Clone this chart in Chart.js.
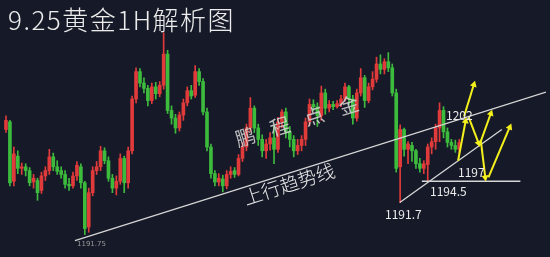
<!DOCTYPE html>
<html>
<head>
<meta charset="utf-8">
<script src="https://cdn.jsdelivr.net/npm/chart.js@4.4.1/dist/chart.umd.min.js"></script>
<style>
  html, body { margin: 0; padding: 0; background: #161a28; }
  #wrap { position: relative; width: 550px; height: 257px; }
</style>
</head>
<body>
<div id="wrap"><canvas id="chart-gold"></canvas></div>
<script>
const bgColor = '#161a28'
const upColor = '#e03a3a'
const downColor = '#3dbb3d'
const lineColor = '#d6d6d6'
const arrowColor = '#f4f01c'
const textColor = '#ececec'

// gold 1H candles, oldest first
const opens = [
  1201.3, 1202.3, 1194.5, 1197.8, 1196.2, 1196.4, 1195.9, 1194.4, 1194.6, 1193.3,
  1195.2, 1195.9, 1197.7, 1196.4, 1195.9, 1195.4, 1194.1, 1193.9, 1195.2, 1196.4,
  1194.3, 1188.5, 1193.0, 1195.9, 1196.4, 1198.5, 1197.2, 1194.9, 1193.6, 1194.5,
  1197.5, 1194.3, 1198.5, 1205.3, 1208.9, 1207.4, 1206.7, 1205.1, 1206.9, 1206.0,
  1207.1, 1211.2, 1203.8, 1202.8, 1201.5, 1203.2, 1204.8, 1206.4, 1205.8, 1208.9,
  1207.6, 1203.6, 1199.0, 1195.5, 1194.4, 1194.8, 1193.9, 1195.4, 1195.9, 1195.4,
  1197.5, 1199.0, 1201.5, 1204.1, 1201.5, 1200.0, 1198.5, 1199.4, 1200.2, 1198.7,
  1202.3, 1203.6, 1201.0, 1200.0, 1198.5, 1199.2, 1200.0, 1202.3, 1204.6, 1204.3,
  1203.1, 1206.1, 1204.1, 1204.6, 1204.3, 1204.7, 1205.3, 1206.9, 1205.3, 1202.8,
  1206.1, 1208.1, 1205.1, 1206.9, 1207.9, 1209.9, 1209.2, 1210.2, 1209.4, 1206.1,
  1196.4, 1201.3, 1198.7, 1199.2, 1198.5, 1196.8, 1196.2, 1196.7, 1199.0, 1199.7,
  1201.5, 1203.8, 1201.0, 1199.6, 1199.2, 1198.7
]
const highs = [
  1203.1, 1202.5, 1199.0, 1198.5, 1196.9, 1196.8, 1196.3, 1195.4, 1194.9, 1195.7,
  1196.4, 1198.7, 1198.2, 1197.2, 1196.4, 1195.9, 1194.9, 1195.7, 1197.1, 1196.8,
  1194.5, 1193.6, 1196.4, 1197.1, 1199.1, 1198.9, 1197.7, 1195.4, 1195.2, 1198.1,
  1197.8, 1199.0, 1205.7, 1209.4, 1209.3, 1208.1, 1207.1, 1207.4, 1207.5, 1207.6,
  1214.0, 1211.7, 1204.4, 1203.3, 1203.6, 1205.3, 1206.9, 1207.1, 1209.7, 1209.3,
  1208.0, 1204.1, 1199.4, 1195.9, 1195.5, 1195.3, 1195.9, 1196.4, 1196.3, 1198.0,
  1199.6, 1202.0, 1205.5, 1204.4, 1202.0, 1200.6, 1200.0, 1200.9, 1201.8, 1202.9,
  1203.9, 1204.1, 1201.7, 1200.5, 1200.0, 1200.5, 1202.8, 1205.3, 1205.2, 1204.8,
  1207.0, 1206.6, 1205.1, 1205.0, 1205.1, 1205.8, 1207.4, 1207.1, 1205.8, 1206.6,
  1209.3, 1208.4, 1207.4, 1208.9, 1210.8, 1211.1, 1210.6, 1211.4, 1209.9, 1206.6,
  1201.9, 1201.5, 1199.7, 1199.6, 1198.7, 1197.5, 1197.2, 1199.4, 1200.2, 1202.0,
  1204.8, 1204.3, 1201.5, 1200.0, 1199.9, 1200.0
]
const lows = [
  1200.9, 1193.9, 1193.9, 1195.5, 1195.4, 1195.2, 1193.9, 1193.6, 1192.0, 1192.9,
  1194.6, 1195.4, 1195.9, 1195.4, 1194.9, 1193.6, 1193.3, 1193.6, 1194.6, 1193.6,
  1187.5, 1187.8, 1192.6, 1195.4, 1195.9, 1196.8, 1194.5, 1193.0, 1192.7, 1194.1,
  1193.0, 1193.6, 1198.1, 1204.8, 1206.9, 1206.1, 1204.4, 1204.7, 1205.3, 1205.6,
  1206.6, 1203.4, 1202.0, 1200.8, 1201.1, 1202.5, 1204.4, 1205.3, 1205.5, 1207.1,
  1203.2, 1198.5, 1194.9, 1193.9, 1193.9, 1193.1, 1193.5, 1194.9, 1195.0, 1195.2,
  1197.1, 1198.5, 1201.0, 1200.9, 1199.2, 1197.7, 1197.5, 1198.6, 1196.8, 1198.3,
  1201.5, 1200.2, 1199.0, 1197.7, 1198.0, 1198.5, 1199.2, 1201.8, 1203.8, 1201.7,
  1202.5, 1203.3, 1203.6, 1203.9, 1204.1, 1204.3, 1205.0, 1204.6, 1202.0, 1202.4,
  1205.7, 1204.2, 1204.8, 1206.5, 1207.5, 1208.6, 1208.6, 1208.9, 1205.7, 1195.7,
  1191.7, 1197.8, 1196.8, 1197.1, 1196.2, 1195.7, 1195.5, 1194.5, 1198.1, 1198.7,
  1199.7, 1200.2, 1199.0, 1198.7, 1198.3, 1198.2
]
const closes = [
  1202.5, 1194.3, 1198.1, 1196.2, 1196.4, 1195.9, 1194.3, 1194.9, 1193.0, 1195.2,
  1195.9, 1197.7, 1196.4, 1195.8, 1195.4, 1194.1, 1193.9, 1195.2, 1196.6, 1194.3,
  1188.3, 1193.0, 1195.9, 1196.4, 1198.5, 1197.2, 1194.9, 1193.6, 1194.5, 1197.5,
  1194.3, 1198.5, 1205.3, 1208.9, 1207.4, 1206.7, 1205.1, 1206.9, 1206.0, 1207.1,
  1211.2, 1203.8, 1202.8, 1201.5, 1203.2, 1204.8, 1206.4, 1205.7, 1208.9, 1207.6,
  1203.6, 1199.0, 1195.5, 1194.4, 1194.9, 1193.9, 1195.4, 1195.8, 1195.4, 1197.5,
  1199.0, 1201.5, 1204.1, 1201.5, 1200.0, 1198.5, 1199.4, 1200.2, 1198.7, 1202.3,
  1203.6, 1201.0, 1200.0, 1198.5, 1199.2, 1200.0, 1202.3, 1204.6, 1204.3, 1203.1,
  1206.1, 1204.1, 1204.6, 1204.3, 1204.7, 1205.3, 1206.9, 1205.3, 1202.8, 1206.1,
  1208.1, 1205.1, 1206.9, 1207.9, 1209.9, 1209.2, 1210.2, 1209.4, 1206.1, 1196.2,
  1201.3, 1198.7, 1199.4, 1198.5, 1196.8, 1196.2, 1196.8, 1199.0, 1199.7, 1201.5,
  1203.8, 1201.0, 1199.6, 1199.2, 1198.7, 1199.6
]

// drawn lines, x = candle number, y = price
const trendX = [17.5, 137]
const trendY = [1186.7, 1206.2]
const supportX = [99.9, 125.8]
const supportY = [1191.7, 1201.3]
const floorX = [105.5, 130.5]
const floorY = [1194.5, 1194.5]

// forecast arrows (start -> end)
const arrowX0 = [114.7, 116.2, 117.4, 120.3, 120.5, 122.4]
const arrowY0 = [1197.2, 1203.0, 1202.9, 1199.5, 1199.7, 1195.0]
const arrowX1 = [116.6, 118.7, 119.9, 123.0, 121.6, 127.8]
const arrowY1 = [1202.4, 1207.2, 1199.5, 1203.4, 1195.0, 1201.6]


function arrowRotation(ctx) {
    var pts = ctx.dataset.data
    var xs = ctx.chart.scales.x
    var ys = ctx.chart.scales.y
    var dx = xs.getPixelForValue(pts[1].x) - xs.getPixelForValue(pts[0].x)
    var dy = ys.getPixelForValue(pts[1].y) - ys.getPixelForValue(pts[0].y)
    return Math.atan2(dx, -dy) * 180 / Math.PI
}

function lineDataset(xs, ys) {
    return {
        type: 'line',
        data: [{x: xs[0], y: ys[0]}, {x: xs[1], y: ys[1]}],
        borderColor: lineColor,
        borderWidth: 1.3,
        pointRadius: 0,
        order: 1,
    }
}

var wickData = []
var bodyData = []
var candleColors = []
var i
for (i = 0; i < closes.length; i++) {
    wickData[i] = {x: i, y: [lows[i], highs[i]]}
    bodyData[i] = {x: i, y: [opens[i], closes[i]]}
    candleColors[i] = closes[i] >= opens[i] ? upColor : downColor
}

var datasets = [{
    label: 'wick',
    data: wickData,
    backgroundColor: candleColors,
    barThickness: 1,
    grouped: false,
    order: 3,
}, {
    label: 'body',
    data: bodyData,
    backgroundColor: candleColors,
    barThickness: 3,
    minBarLength: 1,
    grouped: false,
    order: 2,
},
    lineDataset(trendX, trendY),
    lineDataset(supportX, supportY),
    lineDataset(floorX, floorY),
]

for (i = 0; i < arrowX0.length; i++) {
    datasets.push({
        type: 'line',
        data: [{x: arrowX0[i], y: arrowY0[i]}, {x: arrowX1[i], y: arrowY1[i]}],
        borderColor: arrowColor,
        borderWidth: 2,
        pointStyle: 'triangle',
        pointRadius: [0, 4],
        pointBackgroundColor: arrowColor,
        pointBorderColor: arrowColor,
        pointBorderWidth: 0,
        rotation: arrowRotation,
        order: 0,
    })
}

const bgPlugin = {
    id: 'bg',
    beforeDraw(chart) {
        var c = chart.ctx
        c.save()
        c.fillStyle = bgColor
        c.fillRect(0, 0, chart.width, chart.height)
        c.restore()
    }
}

const textPlugin = {
    id: 'texts',
    afterDraw(chart) {
        var c = chart.ctx
        c.save()

        // title
        c.fillStyle = textColor
        c.font = '300 26px "Noto Sans CJK SC"'
        c.textBaseline = 'alphabetic'
        c.letterSpacing = '1.5px'
        c.fillText('9.25黄金1H解析图', 8, 30)
        c.letterSpacing = '0px'

        // watermark
        c.save()
        c.translate(297, 121)
        c.rotate(-17 * Math.PI / 180)
        c.fillStyle = 'rgba(215,215,215,0.85)'
        c.font = '20px "Noto Sans CJK SC"'
        c.textAlign = 'center'
        c.textBaseline = 'middle'
        var marks = ['鹏', '程', '点', '金']
        for (var k = 0; k < marks.length; k++) {
            c.fillText(marks[k], -54 + k * 36, 0)
        }
        c.restore()

        // trend line caption
        c.save()
        c.translate(289, 184)
        c.rotate(-17.7 * Math.PI / 180)
        c.fillStyle = textColor
        c.font = '300 19px "Noto Sans CJK SC"'
        c.textAlign = 'center'
        c.textBaseline = 'middle'
        c.fillText('上行趋势线', 0, 0)
        c.restore()

        // price notes
        c.fillStyle = textColor
        c.font = '12px "Noto Sans CJK SC"'
        c.textBaseline = 'middle'
        c.fillText('1202', 446, 115)
        c.fillText('1197', 458, 172)
        c.fillText('1194.5', 430, 191)
        c.fillText('1191.7', 385, 214)

        c.fillStyle = '#9a9a9a'
        c.font = '7px "DejaVu Sans"'
        c.fillText('1191.75', 77, 244)

        c.restore()
    }
}

var ctx = document.getElementById('chart-gold')
var chart = new Chart(ctx, {
    type: 'bar',
    data: { datasets: datasets },
    options: {
        responsive: true,
        maintainAspectRatio: false,
        animation: false,
        layout: { padding: 0 },
        plugins: {
            legend: { display: false },
            tooltip: { enabled: false },
        },
        scales: {
            x: { type: 'linear', min: -0.5, max: 137, offset: false, display: false },
            y: { min: 1185.08, max: 1217.78, display: false },
        },
    },
    plugins: [bgPlugin, textPlugin],
})
</script>
</body>
</html>
